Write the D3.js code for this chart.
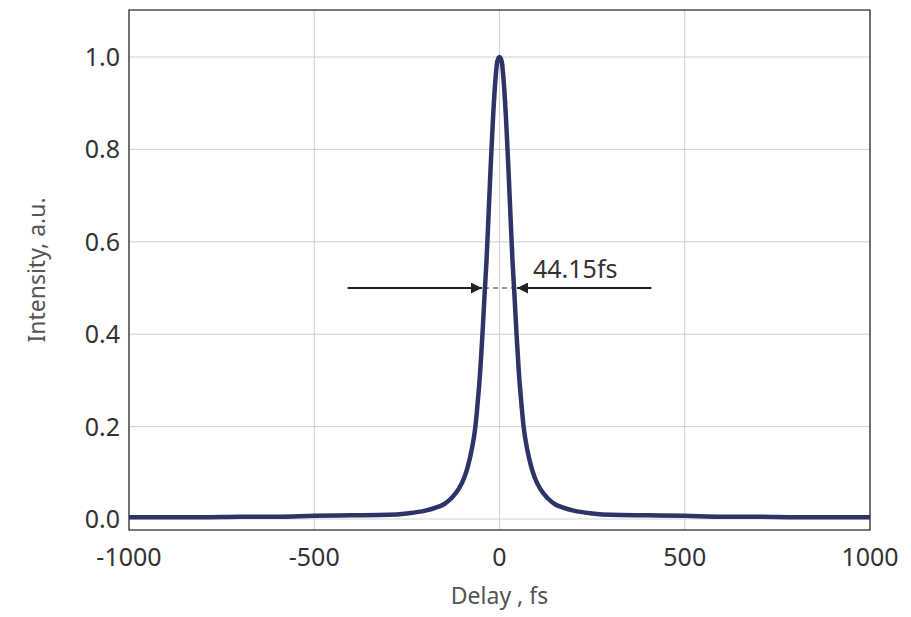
<!DOCTYPE html>
<html><head><meta charset="utf-8">
<script src="https://cdn.jsdelivr.net/npm/d3@7"></script>
<style>body{margin:0;background:#fff}</style></head>
<body><svg id="c" width="911" height="617"></svg>
<script>
const delays = [-1000,-900,-800,-700,-600,-500,-400,-300,-250,-200,-170,-150,-130,-110,-95,-85,-75,-65,-58,-52,-46,-40,-35,-30,-24,-18,-12,-6,0,6,12,18,24,30,35,40,46,52,58,65,75,85,95,110,130,150,170,200,250,300,400,500,600,700,800,900,1000];
const intensity = [0.004,0.004,0.004,0.005,0.005,0.007,0.008,0.009,0.012,0.018,0.025,0.032,0.045,0.065,0.09,0.115,0.15,0.2,0.26,0.32,0.4,0.49,0.56,0.65,0.76,0.86,0.94,0.99,1.0,0.99,0.94,0.86,0.76,0.65,0.56,0.49,0.4,0.32,0.26,0.2,0.15,0.115,0.09,0.065,0.045,0.032,0.025,0.018,0.012,0.009,0.008,0.007,0.005,0.005,0.004,0.004,0.004];
const xTicks = [-1000,-500,0,500,1000];
const yTicks = [0,0.2,0.4,0.6,0.8,1.0];
const fwhmLabel = "44.15fs";
const fwhmLevel = 0.5, fwhmLeft = -42, fwhmRight = 42, arrowFrom = 410;

const svg = d3.select("#c");
const L=129,R=870,T=10,B=530;
const x = d3.scaleLinear().domain([-1000,1000]).range([L,R]);
const y = d3.scaleLinear().domain([0,1]).range([519,57]);
const g = svg.append("g");
xTicks.forEach(t=>g.append("line").attr("x1",x(t)).attr("x2",x(t)).attr("y1",T).attr("y2",B).attr("stroke","#d0d0d0"));
yTicks.forEach(t=>g.append("line").attr("x1",L).attr("x2",R).attr("y1",y(t)).attr("y2",y(t)).attr("stroke","#d0d0d0"));
svg.append("rect").attr("x",L).attr("y",T).attr("width",R-L).attr("height",B-T).attr("fill","none").attr("stroke","#222").attr("stroke-width",1.2);
const font="'Noto Sans', sans-serif";
xTicks.forEach(t=>svg.append("text").attr("x",x(t)).attr("y",566).attr("text-anchor","middle").attr("font-family",font).attr("font-size",25).attr("fill","#333").text(t));
yTicks.forEach(t=>svg.append("text").attr("x",120).attr("y",y(t)+9).attr("text-anchor","end").attr("font-family",font).attr("font-size",25).attr("fill","#333").text(t.toFixed(1)));
svg.append("text").attr("x",(L+R)/2).attr("y",604).attr("text-anchor","middle").attr("font-family",font).attr("font-size",23).attr("fill","#555").text("Delay , fs");
svg.append("text").attr("transform","translate(45,270) rotate(-90)").attr("text-anchor","middle").attr("font-family",font).attr("font-size",23).attr("fill","#555").text("Intensity, a.u.");
const data = delays.map((d,i)=>[d,intensity[i]]);
svg.append("path").datum(data).attr("d",d3.line().x(d=>x(d[0])).y(d=>y(d[1])).curve(d3.curveMonotoneX))
  .attr("fill","none").attr("stroke","#2e3468").attr("stroke-width",4.5).attr("stroke-linejoin","round");
const defs=svg.append("defs");
defs.append("marker").attr("id","ah").attr("viewBox","0 0 10 10").attr("refX",10).attr("refY",5).attr("markerWidth",5).attr("markerHeight",5).attr("orient","auto-start-reverse").attr("markerUnits","strokeWidth")
  .append("path").attr("d","M0,0L10,5L0,10z").attr("fill","#222");
const ya=y(fwhmLevel);
svg.append("line").attr("x1",x(-arrowFrom)).attr("x2",x(fwhmLeft)-2).attr("y1",ya).attr("y2",ya).attr("stroke","#222").attr("stroke-width",2.2).attr("marker-end","url(#ah)");
svg.append("line").attr("x1",x(arrowFrom)).attr("x2",x(fwhmRight)+2).attr("y1",ya).attr("y2",ya).attr("stroke","#222").attr("stroke-width",2.2).attr("marker-end","url(#ah)");
svg.append("line").attr("x1",x(fwhmLeft)).attr("x2",x(fwhmRight)).attr("y1",ya).attr("y2",ya).attr("stroke","#333").attr("stroke-width",1.2).attr("stroke-dasharray","5,4");
svg.append("text").attr("x",533).attr("y",278).attr("font-family",font).attr("font-size",25).attr("fill","#333").text(fwhmLabel);
</script></body></html>
